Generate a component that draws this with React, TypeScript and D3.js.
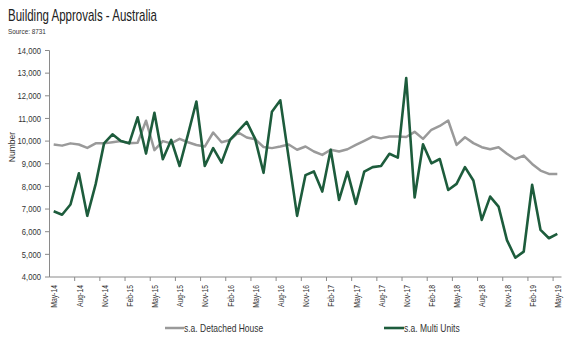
import * as d3 from 'd3';

const detached = [
  9850, 9800, 9900, 9850, 9700, 9900, 9900, 9950, 10000, 9900, 9930, 10900, 9600, 10000, 9900, 10100,
  9950, 9830, 9760, 10380, 9950, 10050, 10380, 10160, 10080, 9740, 9690, 9760, 9850, 9620, 9760, 9540,
  9390, 9620, 9540, 9640, 9830, 10010, 10200, 10120, 10200, 10200, 10180, 10410, 10100, 10500, 10670,
  10910, 9830, 10170, 9910, 9730, 9640, 9730, 9440, 9200, 9360, 8990, 8700, 8550, 8550,
];

const multi = [
  6900, 6750, 7200, 8580, 6700, 8100, 9900, 10300, 10000, 9900, 11050, 9450, 11250, 9200, 10050, 8900,
  10300, 11750, 8900, 9690, 9050, 10050, 10450, 10850, 10100, 8600, 11300, 11800, 9250, 6700, 8500, 8660,
  7770, 9620, 7400, 8640, 7230, 8650, 8850, 8900, 9440, 9270, 12780, 7510, 9860, 9020, 9210, 7840, 8110,
  8850, 8260, 6520, 7550, 7110, 5630, 4850, 5120, 8070, 6080, 5710, 5900,
];

const months = d3.timeMonth.range(new Date(2014, 4, 1), new Date(2019, 5, 1));
const yTicks = [4000, 5000, 6000, 7000, 8000, 9000, 10000, 11000, 12000, 13000, 14000];
const seriesNames = ['s.a. Detached House', 's.a. Multi Units'];
const seriesColors = ['#9a9a9a', '#1d5c3c'];

const fmtMonth = d3.timeFormat('%b-%y');
const font = "'Liberation Sans', Arial, sans-serif";

// the source image is squeezed sideways, so text is drawn narrower than the font
function NarrowText(props: {
  x: number;
  y: number;
  sx: number;
  rotate?: number;
  anchor?: string;
  size: number;
  children: string;
}) {
  const rot = props.rotate ? ` rotate(${props.rotate})` : '';
  return (
    <text
      transform={`translate(${props.x},${props.y})${rot} scale(${props.sx},1)`}
      dy='0.35em'
      textAnchor={props.anchor ?? 'start'}
      fontSize={props.size}
      fill='#333'
    >
      {props.children}
    </text>
  );
}

export default function App() {
  const x = d3
    .scaleBand<Date>()
    .domain(months)
    .range([49.5, 561.5])
    .padding(0);
  const y = d3.scaleLinear().domain([4000, 14000]).range([277, 50.5]);
  const cx = (i: number) => (x(months[i]) as number) + x.bandwidth() / 2;

  const line = d3
    .line<number>()
    .x((_, i) => cx(i))
    .y((d) => y(d));

  const axisColor = '#8a8a8a';

  const yTickEls = yTicks.map((t) => (
    <g key={`yt${t}`}>
      <line x1={45} x2={49.5} y1={y(t)} y2={y(t)} stroke={axisColor} />
      <NarrowText x={41} y={y(t)} sx={0.85} anchor='end' size={9}>
        {d3.format(',')(t)}
      </NarrowText>
    </g>
  ));

  const xTickEls = [];
  for (let i = 0; i < months.length; i += 3) {
    const bx = x(months[i]) as number;
    const lx = cx(i);
    if (i > 0) {
      xTickEls.push(<line key={`xtk${i}`} x1={bx} x2={bx} y1={277} y2={281} stroke={axisColor} />);
    }
    xTickEls.push(
      <NarrowText key={`xtl${i}`} x={lx + 0.5} y={285} rotate={-90} sx={0.76} anchor='end' size={9}>
        {fmtMonth(months[i])}
      </NarrowText>
    );
  }

  return (
    <svg width={580} height={352} style={{ position: 'absolute', left: 0, top: 0, background: '#fff' }} fontFamily={font}>
      <text x={8} y={21} fontSize={17} fill='#222' textLength={149} lengthAdjust='spacingAndGlyphs'>
        Building Approvals - Australia
      </text>
      <NarrowText x={8} y={31} sx={0.85} size={7.5}>
        Source: 8731
      </NarrowText>
      <NarrowText x={12} y={147} rotate={-90} sx={0.95} anchor='middle' size={9}>
        Number
      </NarrowText>

      <line x1={49.5} x2={49.5} y1={50.5} y2={277} stroke={axisColor} />
      <line x1={49.5} x2={561.5} y1={277} y2={277} stroke={axisColor} />
      {yTickEls}
      {xTickEls}

      <path d={line(detached) ?? ''} fill='none' stroke={seriesColors[0]} strokeWidth={2.5} strokeLinejoin='round' />
      <path d={line(multi) ?? ''} fill='none' stroke={seriesColors[1]} strokeWidth={2.6} strokeLinejoin='round' />

      <g>
        <line x1={165} x2={184} y1={328} y2={328} stroke={seriesColors[0]} strokeWidth={2.5} />
        <NarrowText x={184} y={328} sx={0.85} size={10}>
          {seriesNames[0]}
        </NarrowText>
        <line x1={384} x2={404} y1={328} y2={328} stroke={seriesColors[1]} strokeWidth={2.6} />
        <NarrowText x={404} y={328} sx={0.85} size={10}>
          {seriesNames[1]}
        </NarrowText>
      </g>
    </svg>
  );
}
